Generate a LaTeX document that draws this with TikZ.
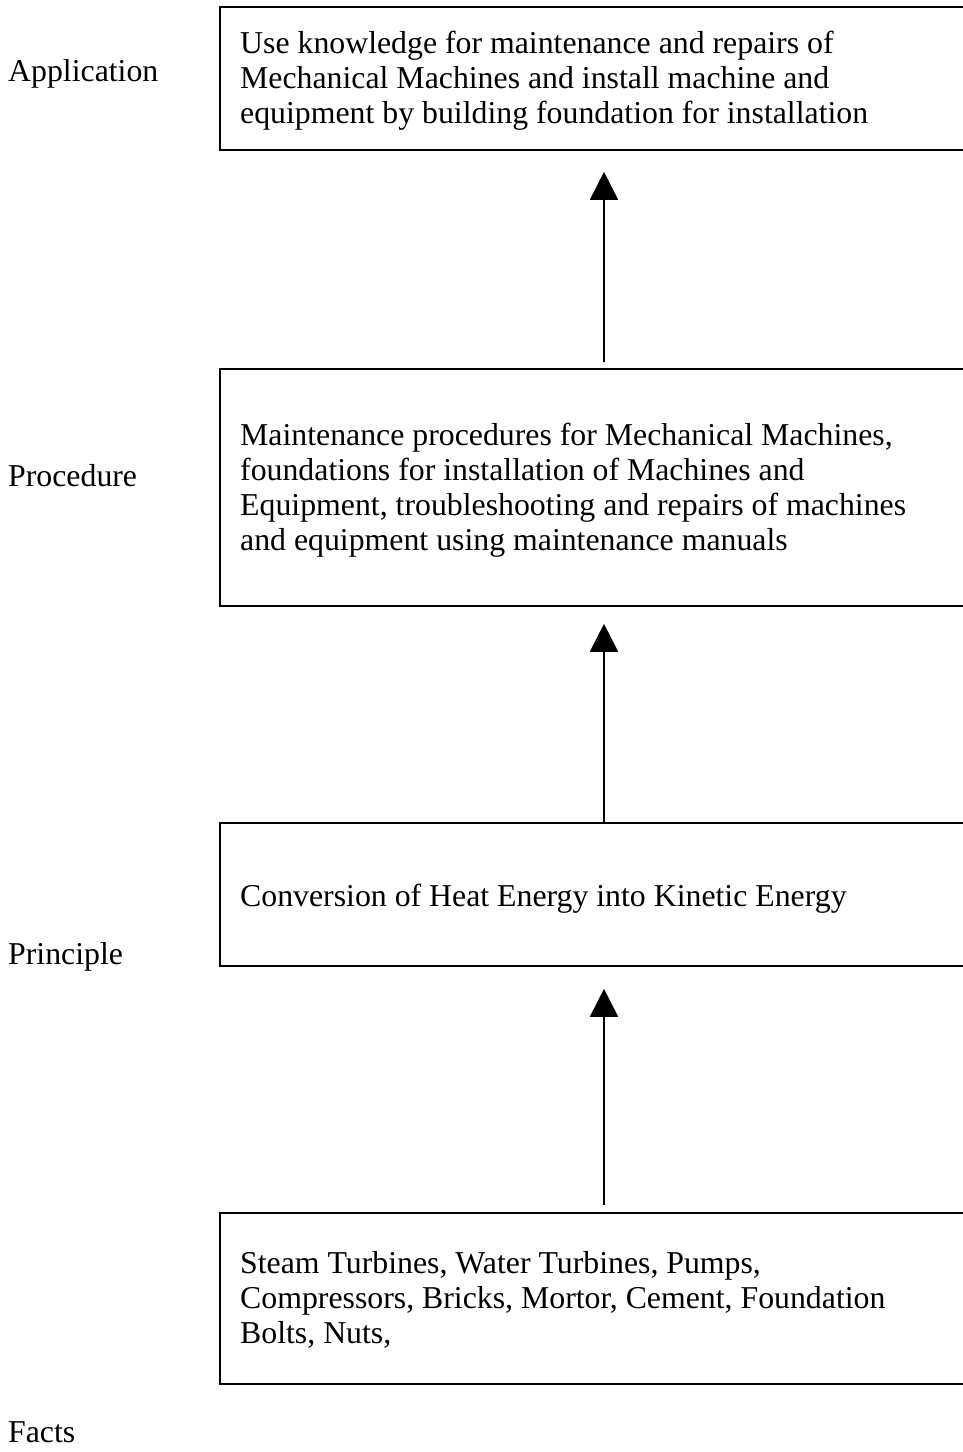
\documentclass[tikz,border=0pt]{standalone}
\usepackage{fontspec}
\setmainfont{Liberation Serif}
\usetikzlibrary{arrows.meta,calc}
\begin{document}
\begin{tikzpicture}[x=1pt,y=1pt,
  box/.style={draw=black, line width=1.8pt, rectangle, anchor=north west, minimum width=800pt, inner sep=0pt},
  txt/.style={anchor=north west, align=left, inner sep=0pt, font=\fontsize{31.8}{35.3}\selectfont},
  lbl/.style={anchor=base west, inner sep=0pt, font=\fontsize{31.8}{35.3}\selectfont},
  arr/.style={line width=1.8pt, -{Triangle[width=28pt,length=28pt]}}]
\useasboundingbox (0,0) rectangle (963,-1452);
\clip (0,0) rectangle (963,-1452);
\fill[white] (0,0) rectangle (963,-1452);
% boxes
\node[box, minimum height=143pt] (b1) at (219,-6) {};
\node[box, minimum height=237pt] (b2) at (219,-368) {};
\node[box, minimum height=143pt] (b3) at (219,-822) {};
\node[box, minimum height=171pt] (b4) at (219,-1212) {};
% texts (anchored at the baseline of their last line)
\node[txt, anchor=base west] (t1) at (240,-123.6) {Use knowledge for maintenance and repairs of\\Mechanical Machines and install machine and\\equipment by building foundation for installation};
\node[txt, anchor=base west] (t2) at (240,-550.9) {Maintenance procedures for Mechanical Machines,\\foundations for installation of Machines and\\Equipment, troubleshooting and repairs of machines\\and equipment using maintenance manuals};
\node[txt, anchor=base west] (t3) at (240,-906) {Conversion of Heat Energy into Kinetic Energy};
\node[txt, anchor=base west] (t4) at (240,-1343.6) {Steam Turbines, Water Turbines, Pumps,\\Compressors, Bricks, Mortor, Cement, Foundation\\Bolts, Nuts,};
% labels
\node[lbl] (l1) at (8,-81) {Application};
\node[lbl] (l2) at (8,-486) {Procedure};
\node[lbl] (l3) at (8,-964) {Principle};
\node[lbl] (l4) at (8,-1442) {Facts};
% arrows
\draw[arr] ([shift={(385,6)}]b2.north west) -- ([shift={(385,-21)}]b1.south west);
\draw[arr] ([shift={(385,0)}]b3.north west) -- ([shift={(385,-17)}]b2.south west);
\draw[arr] ([shift={(385,7)}]b4.north west) -- ([shift={(385,-22)}]b3.south west);
\end{tikzpicture}
\end{document}
